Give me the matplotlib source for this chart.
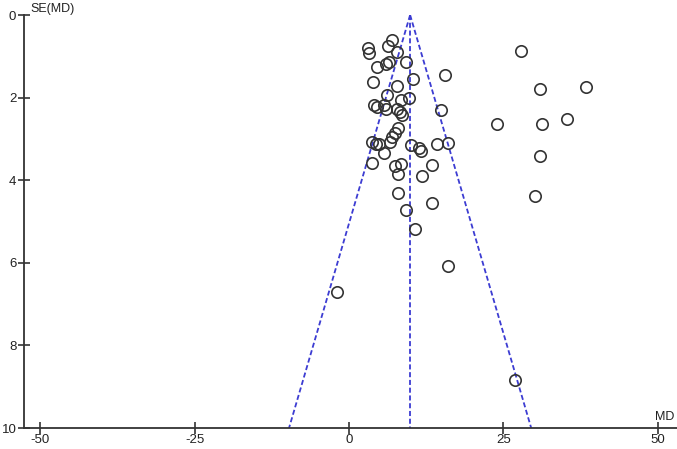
import matplotlib
matplotlib.use("Agg")
import matplotlib.pyplot as plt
import numpy as np

plt.rcParams['font.family'] = ['Liberation Sans', 'DejaVu Sans']

# Study mean differences (MD) and standard errors SE(MD)
md = [3.1, 3.2, 7.0, 6.3, 7.8, 4.5, 6.0, 6.5, 9.3, 27.8,
      15.6, 10.4, 3.9, 7.8, 30.9, 38.3, 6.1, 9.7, 8.4, 4.1,
      4.5, 5.6, 6.0, 7.8, 8.2, 8.6, 14.9, 24.0, 35.3, 31.2,
      7.9, 7.4, 7.0, 6.6, 4.4, 3.7, 4.8, 5.7, 10.0, 11.3,
      11.6, 14.3, 16.1, 3.8, 7.4, 8.4, 13.5, 7.9, 30.9, 11.9,
      7.9, 30.1, 13.5, 9.3, 10.7, 16.0, -1.9, 26.8]
se = [0.80, 0.92, 0.60, 0.76, 0.90, 1.25, 1.18, 1.14, 1.14, 0.86,
      1.46, 1.55, 1.63, 1.72, 1.80, 1.75, 1.93, 2.00, 2.06, 2.18,
      2.23, 2.18, 2.28, 2.28, 2.36, 2.42, 2.30, 2.64, 2.53, 2.65,
      2.74, 2.86, 2.96, 3.08, 3.13, 3.08, 3.13, 3.33, 3.14, 3.23,
      3.30, 3.13, 3.10, 3.59, 3.66, 3.60, 3.62, 3.86, 3.42, 3.91,
      4.30, 4.38, 4.54, 4.72, 5.17, 6.08, 6.70, 8.83]

pooled_md = 9.9
z = 1.96
se_max = 10

fig = plt.figure(figsize=(6.77, 4.49), dpi=100)
ax = fig.add_axes([24/677, 1 - 428/449, 1 - 24/677, (428 - 15)/449])

line_col = '#3c3cd2'
dash = (0, (2.8, 1.5))
ax.plot([pooled_md, pooled_md], [0, se_max], color=line_col, lw=1.3, linestyle=dash)
ax.plot([pooled_md, pooled_md - z * se_max], [0, se_max], color=line_col, lw=1.3, linestyle=dash)
ax.plot([pooled_md, pooled_md + z * se_max], [0, se_max], color=line_col, lw=1.3, linestyle=dash)

ax.plot(md, se, linestyle='none', marker='o', markersize=8.2, markerfacecolor='none',
        markeredgecolor='#333333', markeredgewidth=1.2)

ax.set_xlim(-52.6, 53.1)
ax.set_ylim(10, 0)
ax.set_xticks([-50, -25, 0, 25, 50])
ax.set_xticklabels(['-50', '-25', '0', '25', '50'])
ax.set_yticks([0, 2, 4, 6, 8, 10])

for s in ['top', 'right']:
    ax.spines[s].set_visible(False)
for s in ['left', 'bottom']:
    ax.spines[s].set_color('#333333')
    ax.spines[s].set_linewidth(1.3)

ax.tick_params(axis='both', direction='inout', length=9, width=1.2, colors='#333333',
               labelsize=9.5, labelcolor='#222222')
ax.tick_params(axis='y', pad=1)
ax.tick_params(axis='x', pad=0)

ax.text(0.01, 1.0, 'SE(MD)', transform=ax.transAxes, fontsize=9, color='#222222',
        ha='left', va='bottom')
ax.text(49.5, 9.88, 'MD', fontsize=9, color='#222222', ha='left', va='bottom')

fig.savefig('out.png', dpi=100)
